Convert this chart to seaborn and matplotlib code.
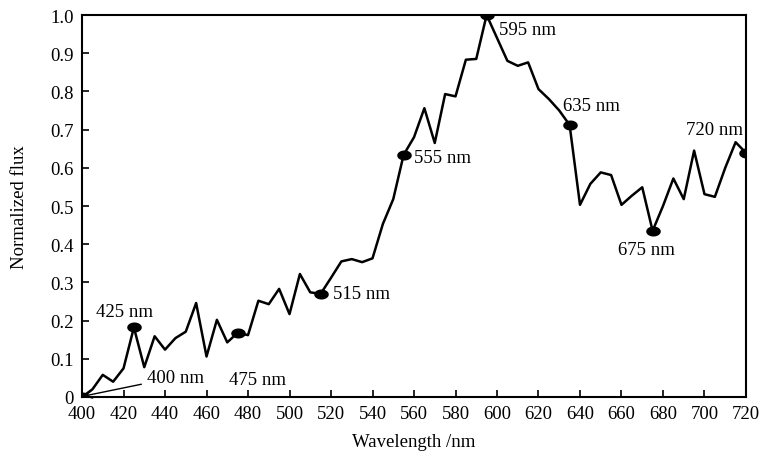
import numpy as np
import pandas as pd
import matplotlib
matplotlib.use('Agg')
import matplotlib.pyplot as plt
import seaborn as sns

# spectrum, one value every 5 nm
wavelength = list(range(400, 725, 5))
flux = [0.0, 0.02, 0.058, 0.04, 0.075, 0.182, 0.078, 0.159, 0.124, 0.154,
        0.171, 0.246, 0.106, 0.202, 0.143, 0.168, 0.162, 0.252, 0.243, 0.283,
        0.217, 0.322, 0.274, 0.27, 0.312, 0.355, 0.361, 0.353, 0.363, 0.453,
        0.518, 0.634, 0.68, 0.756, 0.665, 0.793, 0.787, 0.883, 0.885, 1.0,
        0.94, 0.88, 0.867, 0.876, 0.806, 0.78, 0.75, 0.712, 0.503, 0.558,
        0.588, 0.581, 0.503, 0.527, 0.549, 0.435, 0.50, 0.572, 0.518, 0.645,
        0.531, 0.524, 0.60, 0.667, 0.639]

marked = [400, 425, 475, 515, 555, 595, 635, 675, 720]
# label text positions (x, y, ha)
label_pos = {
    425: (420.7, 0.225, 'center'),
    475: (484.8, 0.045, 'center'),
    515: (521.0, 0.27, 'left'),
    555: (560.0, 0.628, 'left'),
    595: (601.0, 0.963, 'left'),
    635: (632.0, 0.762, 'left'),
    675: (671.8, 0.385, 'center'),
    720: (704.6, 0.699, 'center'),
}

df = pd.DataFrame({'wl': wavelength, 'flux': flux})
pts = df[df['wl'].isin(marked)]

sns.set_style('ticks', {'text.color': 'black', 'axes.labelcolor': 'black',
                        'xtick.color': 'black', 'ytick.color': 'black',
                        'axes.edgecolor': 'black'})
plt.rcParams['font.family'] = ['Liberation Serif', 'DejaVu Serif']
fs = 13.5

fig = plt.figure(figsize=(7.63, 4.56), dpi=100)
ax = fig.add_axes([0.1075, 0.1272, 0.8702, 0.8377])

sns.lineplot(data=df, x='wl', y='flux', color='black', lw=1.8, ax=ax)

t = np.linspace(0, 2 * np.pi, 40)
ellipse = list(zip(1.45 * np.cos(t), np.sin(t)))
sns.scatterplot(data=pts, x='wl', y='flux', marker=ellipse, s=110,
                color='black', edgecolor='black', linewidth=0, ax=ax, zorder=3)

for w, (tx, ty, ha) in label_pos.items():
    ax.text(tx, ty, f'{w} nm', ha=ha, va='center', fontsize=fs)

ax.annotate('400 nm', xy=(400.5, 0.002), xytext=(431.5, 0.052),
            ha='left', va='center', fontsize=fs,
            arrowprops=dict(arrowstyle='->', color='black', lw=1,
                            shrinkA=2, shrinkB=0))

ax.set_xlim(400, 720)
ax.set_ylim(0, 1.0)
ax.set_xticks(range(400, 721, 20))
yt = [i / 10 for i in range(11)]
ax.set_yticks(yt)
ax.set_yticklabels(['0'] + [f'{v:.1f}' for v in yt[1:]])
ax.tick_params(direction='in', length=5, width=1.2, labelsize=fs)
ax.tick_params(axis='x', pad=6)
ax.tick_params(axis='y', pad=6)
for s in ax.spines.values():
    s.set_visible(True)
    s.set_linewidth(1.5)
ax.set_xlabel('Wavelength /nm', fontsize=fs, labelpad=8)
ax.set_ylabel('Normalized flux', fontsize=fs, labelpad=16)

fig.savefig('out.png', dpi=100)
